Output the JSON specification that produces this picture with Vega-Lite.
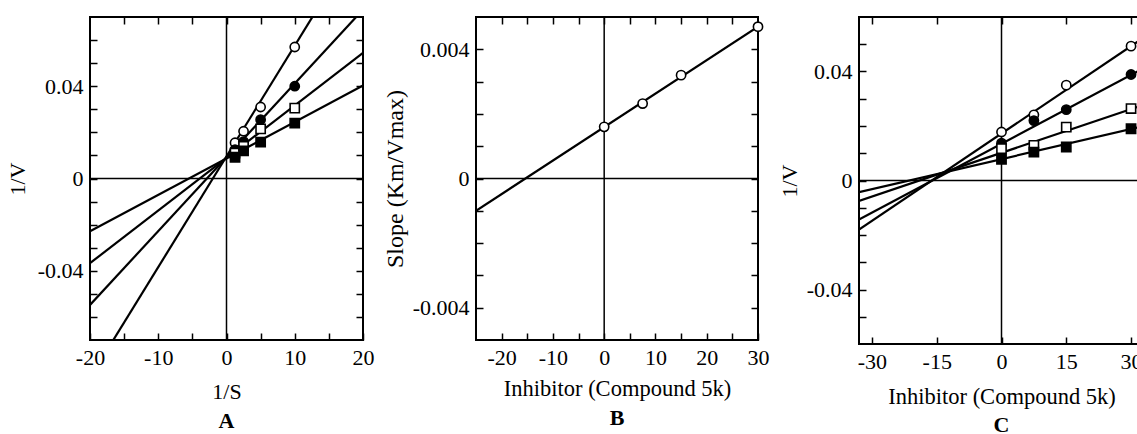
{
  "$schema": "https://vega.github.io/schema/vega-lite/v6.json",
  "padding": {"left": 5, "top": 15, "right": 0, "bottom": 0},
  "spacing": 7,
  "config": {
    "view": {"stroke": "black", "strokeWidth": 2},
    "font": "Liberation Serif",
    "axis": {
      "domain": false, "grid": false,
      "tickColor": "black", "tickWidth": 1.5, "tickSize": -7,
      "labelFont": "Liberation Serif", "labelFontSize": 22, "labelColor": "black",
      "labelPadding": 14, "labelFlush": false, "labelOverlap": false,
      "titleFont": "Liberation Serif", "titleFontSize": 22, "titleFontWeight": "normal", "titleColor": "black"
    },
    "title": {"font": "Liberation Serif", "fontSize": 22, "fontWeight": "bold", "color": "black"}
  },
  "datasets": {
    "linesA": [
      {"s": "s1", "x": -20, "y": -0.0864}, {"s": "s1", "x": 20, "y": 0.1056},
      {"s": "s2", "x": -20, "y": -0.0548}, {"s": "s2", "x": 20, "y": 0.0732},
      {"s": "s3", "x": -20, "y": -0.0367}, {"s": "s3", "x": 20, "y": 0.0545},
      {"s": "s4", "x": -20, "y": -0.0229}, {"s": "s4", "x": 20, "y": 0.0403}
    ],
    "ptsA": [
      {"s": "s1", "x": 1.25, "y": 0.0155}, {"s": "s1", "x": 2.5, "y": 0.0205}, {"s": "s1", "x": 5, "y": 0.031}, {"s": "s1", "x": 10, "y": 0.057},
      {"s": "s2", "x": 1.25, "y": 0.0125}, {"s": "s2", "x": 2.5, "y": 0.016}, {"s": "s2", "x": 5, "y": 0.0255}, {"s": "s2", "x": 10, "y": 0.040},
      {"s": "s3", "x": 1.25, "y": 0.011}, {"s": "s3", "x": 2.5, "y": 0.014}, {"s": "s3", "x": 5, "y": 0.0215}, {"s": "s3", "x": 10, "y": 0.0305},
      {"s": "s4", "x": 1.25, "y": 0.0092}, {"s": "s4", "x": 2.5, "y": 0.012}, {"s": "s4", "x": 5, "y": 0.0158}, {"s": "s4", "x": 10, "y": 0.024}
    ],
    "linesB": [
      {"s": "s1", "x": -25, "y": -0.001}, {"s": "s1", "x": 30, "y": 0.0047}
    ],
    "ptsB": [
      {"s": "s1", "x": 0, "y": 0.0016}, {"s": "s1", "x": 7.5, "y": 0.00232}, {"s": "s1", "x": 15, "y": 0.0032}, {"s": "s1", "x": 30, "y": 0.0047}
    ],
    "linesC": [
      {"s": "s1", "x": -33, "y": -0.018}, {"s": "s1", "x": 33, "y": 0.0525},
      {"s": "s2", "x": -33, "y": -0.0143}, {"s": "s2", "x": 33, "y": 0.0413},
      {"s": "s3", "x": -33, "y": -0.0075}, {"s": "s3", "x": 33, "y": 0.0278},
      {"s": "s4", "x": -33, "y": -0.0043}, {"s": "s4", "x": 33, "y": 0.0200}
    ],
    "ptsC": [
      {"s": "s1", "x": 0, "y": 0.0178}, {"s": "s1", "x": 7.5, "y": 0.0241}, {"s": "s1", "x": 15, "y": 0.035}, {"s": "s1", "x": 30, "y": 0.0493},
      {"s": "s2", "x": 0, "y": 0.0137}, {"s": "s2", "x": 7.5, "y": 0.022}, {"s": "s2", "x": 15, "y": 0.026}, {"s": "s2", "x": 30, "y": 0.0389},
      {"s": "s3", "x": 0, "y": 0.0117}, {"s": "s3", "x": 7.5, "y": 0.0129}, {"s": "s3", "x": 15, "y": 0.0196}, {"s": "s3", "x": 30, "y": 0.0264},
      {"s": "s4", "x": 0, "y": 0.0078}, {"s": "s4", "x": 7.5, "y": 0.0104}, {"s": "s4", "x": 15, "y": 0.0123}, {"s": "s4", "x": 30, "y": 0.019}
    ]
  },
  "hconcat": [
    {
      "width": 273, "height": 323,
      "title": {"text": "A", "orient": "bottom", "offset": 9},
      "resolve": {"axis": {"x": "independent", "y": "independent"}},
      "layer": [
        {
          "data": {"values": [{}]},
          "mark": {"type": "rule", "color": "black", "strokeWidth": 1.5},
          "encoding": {"x": {"datum": 0, "type": "quantitative", "axis": null, "scale": {"domain": [-20, 20], "nice": false, "zero": false}}}
        },
        {
          "data": {"values": [{}]},
          "mark": {"type": "rule", "color": "black", "strokeWidth": 1.5},
          "encoding": {"y": {"datum": 0, "type": "quantitative", "axis": null, "scale": {"domain": [-0.07, 0.07], "nice": false, "zero": false}}}
        },
        {
          "data": {"name": "linesA"},
          "mark": {"type": "line", "clip": true, "color": "black", "strokeWidth": 2.2},
          "encoding": {
            "x": {"field": "x", "type": "quantitative", "scale": {"domain": [-20, 20], "nice": false, "zero": false},
                  "axis": {"orient": "bottom", "title": "1/S", "titlePadding": 13, "values": [-20, -15, -10, -5, 0, 5, 10, 15, 20],
                           "labelExpr": "datum.value % 10 == 0 ? (datum.value < 0 ? '-' + abs(datum.value) : '' + datum.value) : ''"}},
            "y": {"field": "y", "type": "quantitative", "scale": {"domain": [-0.07, 0.07], "nice": false, "zero": false},
                  "axis": {"orient": "left", "title": "1/V", "titlePadding": 8, "values": [-0.06, -0.05, -0.04, -0.03, -0.02, -0.01, 0, 0.01, 0.02, 0.03, 0.04, 0.05, 0.06],
                           "labelExpr": "datum.value > 0.035 && datum.value < 0.045 ? '0.04' : (datum.value < -0.035 && datum.value > -0.045 ? '-0.04' : (abs(datum.value) < 0.001 ? '0' : ''))"}},
            "detail": {"field": "s"}
          }
        },
        {
          "data": {"name": "ptsA"},
          "mark": {"type": "point", "filled": true, "stroke": "black", "strokeWidth": 1.6, "size": 85, "opacity": 1},
          "encoding": {
            "x": {"field": "x", "type": "quantitative", "scale": {"domain": [-20, 20], "nice": false, "zero": false},
                  "axis": {"orient": "top", "title": null, "labels": false, "values": [-15, -10, -5, 0, 5, 10, 15]}},
            "y": {"field": "y", "type": "quantitative", "scale": {"domain": [-0.07, 0.07], "nice": false, "zero": false},
                  "axis": {"orient": "right", "title": null, "labels": false, "values": [-0.06, -0.05, -0.04, -0.03, -0.02, -0.01, 0, 0.01, 0.02, 0.03, 0.04, 0.05, 0.06]}},
            "shape": {"field": "s", "type": "nominal", "legend": null, "scale": {"domain": ["s1", "s2", "s3", "s4"], "range": ["circle", "circle", "square", "square"]}},
            "fill": {"field": "s", "type": "nominal", "legend": null, "scale": {"domain": ["s1", "s2", "s3", "s4"], "range": ["white", "black", "white", "black"]}}
          }
        }
      ]
    },
    {
      "width": 282, "height": 323,
      "title": {"text": "B", "orient": "bottom", "offset": 8},
      "resolve": {"axis": {"x": "independent", "y": "independent"}},
      "layer": [
        {
          "data": {"values": [{}]},
          "mark": {"type": "rule", "color": "black", "strokeWidth": 1.5},
          "encoding": {"x": {"datum": 0, "type": "quantitative", "axis": null, "scale": {"domain": [-25, 30], "nice": false, "zero": false}}}
        },
        {
          "data": {"values": [{}]},
          "mark": {"type": "rule", "color": "black", "strokeWidth": 1.5},
          "encoding": {"y": {"datum": 0, "type": "quantitative", "axis": null, "scale": {"domain": [-0.005, 0.005], "nice": false, "zero": false}}}
        },
        {
          "data": {"name": "linesB"},
          "mark": {"type": "line", "clip": true, "color": "black", "strokeWidth": 2.2},
          "encoding": {
            "x": {"field": "x", "type": "quantitative", "scale": {"domain": [-25, 30], "nice": false, "zero": false},
                  "axis": {"orient": "bottom", "title": "Inhibitor (Compound 5k)", "titlePadding": 9, "titleFontSize": 22.5, "values": [-20, -15, -10, -5, 0, 5, 10, 15, 20, 25, 30],
                           "labelExpr": "datum.value % 10 == 0 ? (datum.value < 0 ? '-' + abs(datum.value) : '' + datum.value) : ''"}},
            "y": {"field": "y", "type": "quantitative", "scale": {"domain": [-0.005, 0.005], "nice": false, "zero": false},
                  "axis": {"orient": "left", "title": "Slope (Km/Vmax)", "titlePadding": 5, "titleFontSize": 24, "values": [-0.004, -0.003, -0.002, -0.001, 0, 0.001, 0.002, 0.003, 0.004],
                           "labelExpr": "datum.value > 0.0035 ? '0.004' : (datum.value < -0.0035 ? '-0.004' : (abs(datum.value) < 0.0001 ? '0' : ''))"}}
          }
        },
        {
          "data": {"name": "ptsB"},
          "mark": {"type": "point", "filled": true, "fill": "white", "stroke": "black", "strokeWidth": 1.6, "size": 85, "opacity": 1, "shape": "circle"},
          "encoding": {
            "x": {"field": "x", "type": "quantitative", "scale": {"domain": [-25, 30], "nice": false, "zero": false},
                  "axis": {"orient": "top", "title": null, "labels": false, "values": [-20, -15, -10, -5, 0, 5, 10, 15, 20, 25]}},
            "y": {"field": "y", "type": "quantitative", "scale": {"domain": [-0.005, 0.005], "nice": false, "zero": false},
                  "axis": {"orient": "right", "title": null, "labels": false, "values": [-0.004, -0.003, -0.002, -0.001, 0, 0.001, 0.002, 0.003, 0.004]}}
          }
        }
      ]
    },
    {
      "width": 285, "height": 327,
      "title": {"text": "C", "orient": "bottom", "offset": 7},
      "resolve": {"axis": {"x": "independent", "y": "independent"}},
      "layer": [
        {
          "data": {"values": [{}]},
          "mark": {"type": "rule", "color": "black", "strokeWidth": 1.5},
          "encoding": {"x": {"datum": 0, "type": "quantitative", "axis": null, "scale": {"domain": [-33, 33], "nice": false, "zero": false}}}
        },
        {
          "data": {"values": [{}]},
          "mark": {"type": "rule", "color": "black", "strokeWidth": 1.5},
          "encoding": {"y": {"datum": 0, "type": "quantitative", "axis": null, "scale": {"domain": [-0.06, 0.06], "nice": false, "zero": false}}}
        },
        {
          "data": {"name": "linesC"},
          "mark": {"type": "line", "clip": true, "color": "black", "strokeWidth": 2.2},
          "encoding": {
            "x": {"field": "x", "type": "quantitative", "scale": {"domain": [-33, 33], "nice": false, "zero": false},
                  "axis": {"orient": "bottom", "title": "Inhibitor (Compound 5k)", "titlePadding": 13, "titleFontSize": 22.5, "values": [-30, -15, 0, 15, 30],
                           "labelExpr": "datum.value < 0 ? '-' + abs(datum.value) : '' + datum.value"}},
            "y": {"field": "y", "type": "quantitative", "scale": {"domain": [-0.06, 0.06], "nice": false, "zero": false},
                  "axis": {"orient": "left", "title": "1/V", "titlePadding": 5, "values": [-0.05, -0.04, -0.03, -0.02, -0.01, 0, 0.01, 0.02, 0.03, 0.04, 0.05],
                           "labelExpr": "datum.value > 0.035 && datum.value < 0.045 ? '0.04' : (datum.value < -0.035 && datum.value > -0.045 ? '-0.04' : (abs(datum.value) < 0.001 ? '0' : ''))"}},
            "detail": {"field": "s"}
          }
        },
        {
          "data": {"name": "ptsC"},
          "mark": {"type": "point", "filled": true, "stroke": "black", "strokeWidth": 1.6, "size": 85, "opacity": 1},
          "encoding": {
            "x": {"field": "x", "type": "quantitative", "scale": {"domain": [-33, 33], "nice": false, "zero": false},
                  "axis": {"orient": "top", "title": null, "labels": false, "values": [-30, -15, 0, 15, 30]}},
            "y": {"field": "y", "type": "quantitative", "scale": {"domain": [-0.06, 0.06], "nice": false, "zero": false},
                  "axis": {"orient": "right", "title": null, "labels": false, "values": [-0.05, -0.04, -0.03, -0.02, -0.01, 0, 0.01, 0.02, 0.03, 0.04, 0.05]}},
            "shape": {"field": "s", "type": "nominal", "legend": null, "scale": {"domain": ["s1", "s2", "s3", "s4"], "range": ["circle", "circle", "square", "square"]}},
            "fill": {"field": "s", "type": "nominal", "legend": null, "scale": {"domain": ["s1", "s2", "s3", "s4"], "range": ["white", "black", "white", "black"]}}
          }
        }
      ]
    }
  ]
}
